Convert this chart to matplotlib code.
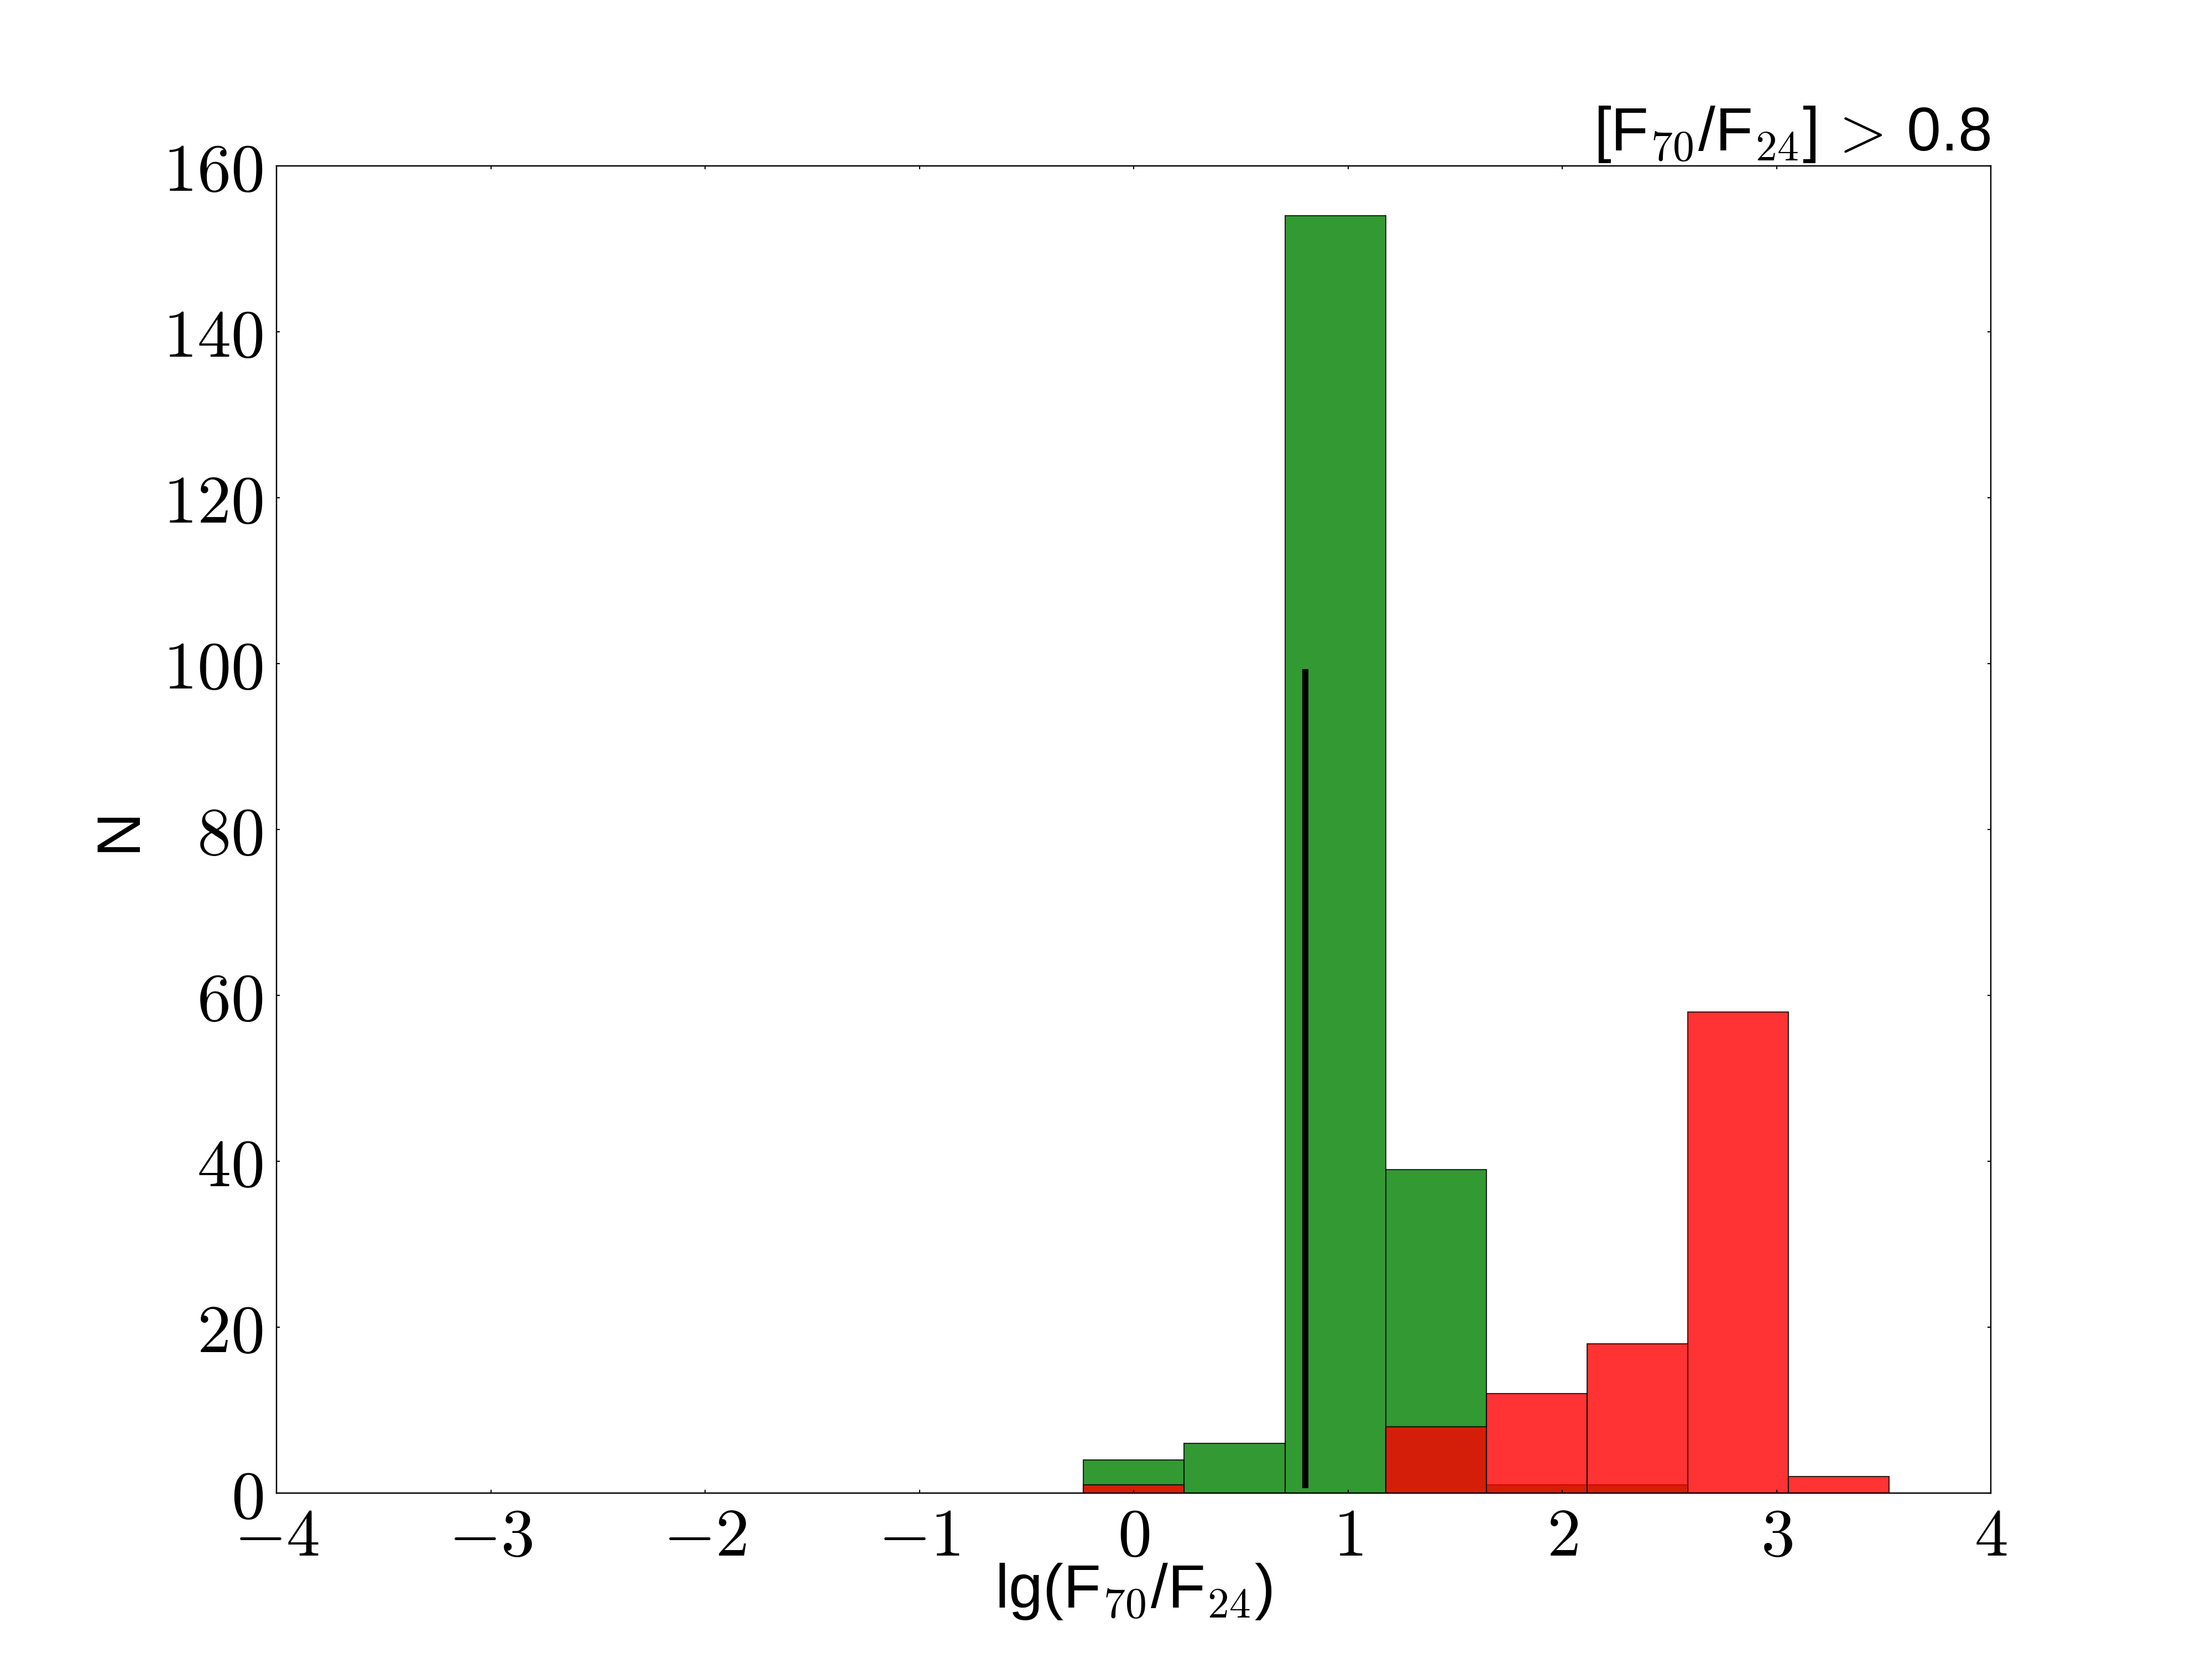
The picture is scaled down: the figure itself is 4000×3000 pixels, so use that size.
import numpy as np
import matplotlib.pyplot as plt
from matplotlib.ticker import FuncFormatter

plt.rcParams['font.family'] = ['Liberation Sans', 'DejaVu Sans']
plt.rcParams['mathtext.fontset'] = 'cm'

# histogram bins (17 equal bins)
bin_edges = [-3.994, -3.524, -3.054, -2.584, -2.114, -1.644, -1.174, -0.704,
             -0.234, 0.236, 0.706, 1.176, 1.646, 2.116, 2.586, 3.056, 3.526, 3.996]
green_counts = [0, 0, 0, 0, 0, 0, 0, 0, 4, 6, 154, 39, 1, 1, 0, 0, 0]
red_counts = [0, 0, 0, 0, 0, 0, 0, 0, 1, 0, 0, 8, 12, 18, 58, 2, 0]
cut_value = 0.8
cut_line = [1, 99]

edges = np.array(bin_edges)
centers = 0.5*(edges[1:] + edges[:-1])

fig = plt.figure(figsize=(8, 6))
fig.subplots_adjust(left=0.125, right=0.9, bottom=0.1, top=0.9)
ax = plt.axes()
ax.hist(centers, bins=edges, weights=green_counts, color='green', alpha=0.8,
        edgecolor='k', linewidth=0.3)
ax.hist(centers, bins=edges, weights=red_counts, color='red', alpha=0.8,
        edgecolor='k', linewidth=0.3)
ax.plot([cut_value, cut_value], cut_line, color='k', lw=1.6)

ax.set_xlim(-4, 4)
ax.set_ylim(0, 160)
ax.set_xticks(np.arange(-4, 5, 1))
ax.set_yticks(np.arange(0, 161, 20))
fmt = FuncFormatter(lambda v, p: r'$%d$' % v)
ax.xaxis.set_major_formatter(fmt)
ax.yaxis.set_major_formatter(fmt)
ax.tick_params(direction='in', top=True, right=True, length=0.9, width=0.3,
               labelsize=17.6, pad=3.5)
for s in ax.spines.values():
    s.set_linewidth(0.35)

ax.set_xlabel(r'lg(F$_{70}$/F$_{24}$)', fontsize=16, labelpad=-2)
ax.set_ylabel('N', fontsize=16)
ax.set_title(r'[F$_{70}$/F$_{24}$]$\,>\,$0.8', loc='right', fontsize=16, pad=4)

fig.savefig('out.png', dpi=500)
